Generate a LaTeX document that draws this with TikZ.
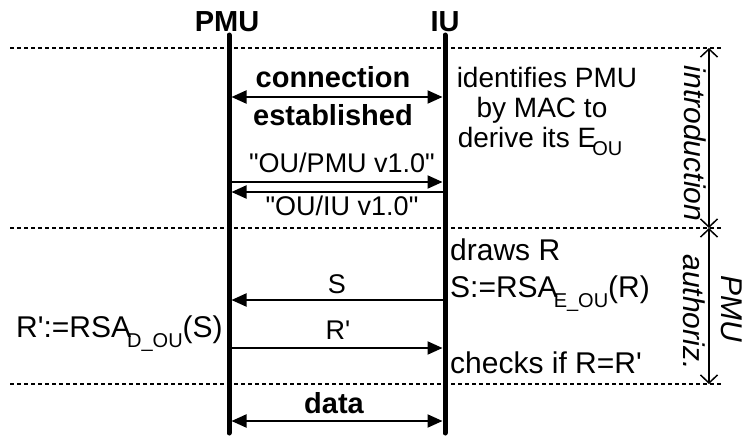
\documentclass[tikz,border=0pt]{standalone}
\usepackage{fontspec}
\setmainfont{Liberation Sans}[Ligatures=TeXOff]
\usetikzlibrary{arrows.meta}

% lowered index set in a smaller size, tucked under the preceding letter
\newcommand\lowsub[2][10pt]{\kern-4pt\raisebox{-#1}{\fontsize{20}{20}\selectfont #2}}

\tikzset{
  lifeline/.style={line width=5pt, line cap=round},
  msg/.style={line width=2pt, -{Triangle[length=15pt,width=13pt]}},
  bimsg/.style={line width=2pt, {Triangle[length=15pt,width=13pt]}-{Triangle[length=15pt,width=13pt]}},
  phasesep/.style={line width=2pt, dash pattern=on 4pt off 3pt},
  span/.style={line width=1.5pt, {Straight Barb[length=8pt,width=17pt]}-{Straight Barb[length=8pt,width=17pt]}},
  head/.style={inner sep=0pt, anchor=base, font=\fontsize{29}{33}\selectfont\bfseries},
  boldlbl/.style={inner sep=0pt, anchor=base, font=\fontsize{29}{33}\selectfont\bfseries},
  lbl/.style={inner sep=0pt, anchor=base, font=\fontsize{27}{31}\selectfont},
  note/.style={inner sep=0pt, anchor=base west, font=\fontsize{30}{34}\selectfont},
  idnote/.style={inner sep=0pt, anchor=base, font=\fontsize{28}{30}\selectfont},
  phase/.style={inner sep=0pt, anchor=base, rotate=-90, font=\fontsize{30}{34}\selectfont\itshape},
}

\begin{document}
\begin{tikzpicture}[x=1pt,y=-1pt]
\useasboundingbox (0,0) rectangle (744,436);

% participants
\node[head] (pmuHead) at (227,32) {PMU};
\node[head] (iuHead) at (445,32) {IU};
\coordinate (pmuTop) at (229,35);  \coordinate (pmuBot) at (229,433);
\coordinate (iuTop)  at (445,35);  \coordinate (iuBot)  at (445,433);
\draw[lifeline] (pmuTop) -- (pmuBot);
\draw[lifeline] (iuTop) -- (iuBot);

% phase separators
\coordinate (sepAL) at (10,48);  \coordinate (sepAR) at (722,48);
\coordinate (sepBL) at (10,228); \coordinate (sepBR) at (722,228);
\coordinate (sepCL) at (10,384); \coordinate (sepCR) at (722,384);
\draw[phasesep] (sepAL) -- (sepAR);
\draw[phasesep] (sepBL) -- (sepBR);
\draw[phasesep] (sepCL) -- (sepCR);

% phase spans on the right
\coordinate (spanA) at (709,48);
\coordinate (spanB) at (709,228);
\coordinate (spanC) at (709,384);
\draw[span] (spanA) -- (spanB);
\draw[span] (spanB) -- (spanC);
\node[phase] (phIntro) at (684,143.5) {introduction};
\node[phase] (phPmu) at (721,309) {PMU};
\node[phase] (phAuth) at (683,312) {authoriz.};

% message end points on the lifelines
\coordinate (p1) at (231.5,97);  \coordinate (i1) at (442.5,97);
\coordinate (p2) at (231.5,182); \coordinate (i2) at (442.5,182);
\coordinate (p3) at (231.5,192); \coordinate (i3) at (442.5,192);
\coordinate (p4) at (231.5,300); \coordinate (i4) at (442.5,300);
\coordinate (p5) at (231.5,348); \coordinate (i5) at (442.5,348);
\coordinate (p6) at (231.5,421); \coordinate (i6) at (442.5,421);

% introduction
\draw[bimsg] (p1) -- (i1);
\node[boldlbl] (conn) at (333,88) {connection};
\node[boldlbl] (estab) at (333,125) {established};
\draw[msg] (p2) -- (i2);
\node[lbl] (verPmu) at (342,172) {"OU/PMU v1.0"};
\draw[msg] (i3) -- (p3);
\node[lbl] (verIu) at (342,215) {"OU/IU v1.0"};

\node[idnote] (idA) at (547,87) {identifies PMU};
\node[idnote] (idB) at (542,117) {by MAC to};
\node[idnote] (idC) at (540,147) {derive its E\lowsub[8pt]{OU}};

% PMU authorization
\node[note] (drawR) at (450,260) {draws R};
\node[note] (signS) at (450,297) {S:=RSA\lowsub{E\_OU}(R)};
\draw[msg] (i4) -- (p4);
\node[lbl] (lblS) at (337,293) {S};
\node[note] (decR) at (16,337) {R':=RSA\lowsub{D\_OU}(S)};
\draw[msg] (p5) -- (i5);
\node[lbl] (lblR) at (338,339) {R'};
\node[note] (check) at (450,373) {checks if R=R'};

% data exchange
\draw[bimsg] (p6) -- (i6);
\node[boldlbl] (data) at (334,413) {data};
\end{tikzpicture}
\end{document}
